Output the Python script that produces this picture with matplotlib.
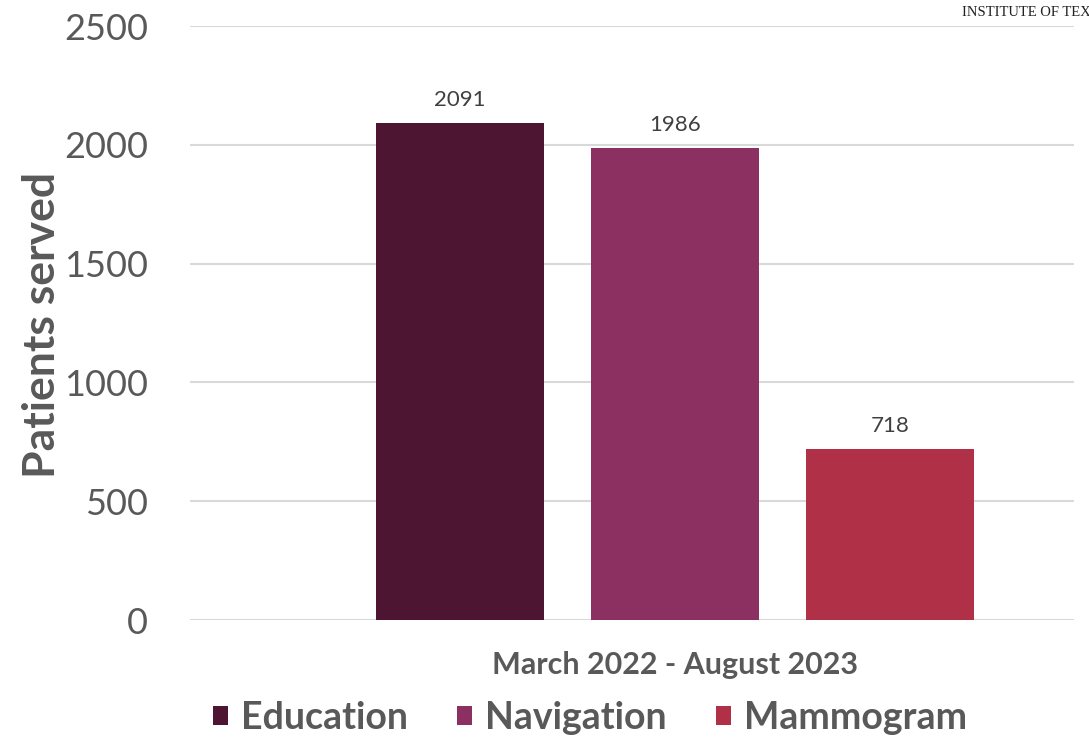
import matplotlib
matplotlib.use("Agg")
import matplotlib.pyplot as plt
import numpy as np

# data
categories = ["March 2022 - August 2023"]
series = ["Education", "Navigation", "Mammogram"]
values = [[2091], [1986], [718]]
colors = ["#4E1532", "#8C3062", "#B03048"]
yticks = [0, 500, 1000, 1500, 2000, 2500]

plt.rcParams["font.family"] = ["Lato", "DejaVu Sans"]
grey = "#595959"

fig = plt.figure(figsize=(10.89, 7.42), dpi=100)
ax = fig.add_axes([190 / 1089, 122 / 742, 884 / 1089, 594 / 742])

step = 0.3
width = step * 168 / 215
x = np.arange(len(categories))
for i, name in enumerate(series):
    pos = x + (i - 1) * step
    bars = ax.bar(pos, values[i], width, color=colors[i], label=name, zorder=3)
    for b, v in zip(bars, values[i]):
        ax.text(b.get_x() + b.get_width() / 2, v + 55, str(v), ha="center", va="bottom",
                fontsize=16, color="#404040")

ax.set_xlim(-0.676, 0.557)
ax.set_ylim(0, 2500)
ax.set_yticks(yticks)
ax.set_yticklabels([str(t) for t in yticks], fontsize=26, color=grey)
ax.set_xticks(x)
ax.set_xticklabels(categories, fontsize=22, fontweight="bold", color=grey)
ax.tick_params(axis="both", length=0)
ax.tick_params(axis="y", pad=30)
ax.tick_params(axis="x", pad=22)
ax.grid(axis="y", color="#D9D9D9", linewidth=1.5, zorder=0)
for s in ax.spines.values():
    s.set_visible(False)

ax.set_ylabel("Patients served", fontsize=32, fontweight="bold", color=grey)
ax.yaxis.set_label_coords(-0.167, 0.497)
ax.yaxis.label.set_va("center")

leg = fig.legend(loc="center", bbox_to_anchor=(590 / 1089, 1 - 718 / 742), ncol=3,
                 frameon=False, fontsize=27, handlelength=0.4, handleheight=0.4,
                 handletextpad=0.35, columnspacing=1.3)
for t in leg.get_texts():
    t.set_color(grey)
    t.set_fontweight("bold")

fig.text(962 / 1089, 1 - 12 / 742, "INSTITUTE OF TEX", fontsize=10.5,
         family="Liberation Serif", color="#222222", va="center", ha="left")

fig.savefig("out.png", dpi=100)
